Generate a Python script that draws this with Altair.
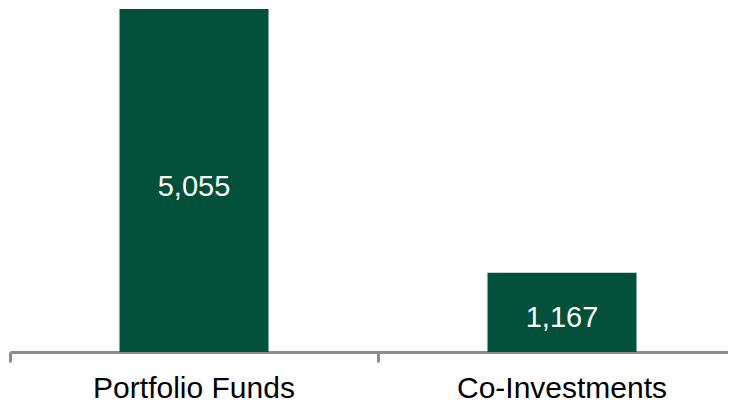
import altair as alt
import pandas as pd

categories = ["Portfolio Funds", "Co-Investments"]
values = [5055, 1167]
labels = ["5,055", "1,167"]

df = pd.DataFrame({"category": categories, "value": values, "label": labels})
df["mid"] = df["value"] / 2

xscale = alt.Scale(range=[0, 736], paddingInner=0, paddingOuter=0)
xaxis = alt.Axis(
    title=None,
    bandPosition=0,
    domainColor="#8c8c8c",
    domainWidth=3,
    tickColor="#8c8c8c",
    tickWidth=3,
    tickSize=10,
    labelFont="Liberation Sans",
    labelFontSize=30,
    labelColor="#000000",
    labelPadding=11,
    labelAngle=0,
    labelLimit=0,
)

bars = alt.Chart(df).mark_bar(color="#01503A", width=alt.RelativeBandSize(149 / 368)).encode(
    x=alt.X("category:N", sort=categories, scale=xscale, axis=xaxis),
    y=alt.Y("value:Q", scale=alt.Scale(domain=[0, 5055], nice=False, zero=True), axis=None),
)

text = alt.Chart(df).mark_text(
    color="white", font="Liberation Sans", fontSize=29, baseline="middle", dy=6
).encode(
    x=alt.X("category:N", sort=categories, scale=xscale, axis=xaxis),
    y=alt.Y("mid:Q"),
    text="label:N",
)

chart = (
    alt.layer(bars, text)
    .properties(
        width=718,
        height=343,
        padding={"left": 2, "top": 1, "right": 0, "bottom": 50},
        autosize=alt.AutoSizeParams(type="none"),
        background="white",
    )
    .configure_view(strokeWidth=0, stroke=None)
)

chart.save("out.html", embed_options={"renderer": "svg", "actions": False})
